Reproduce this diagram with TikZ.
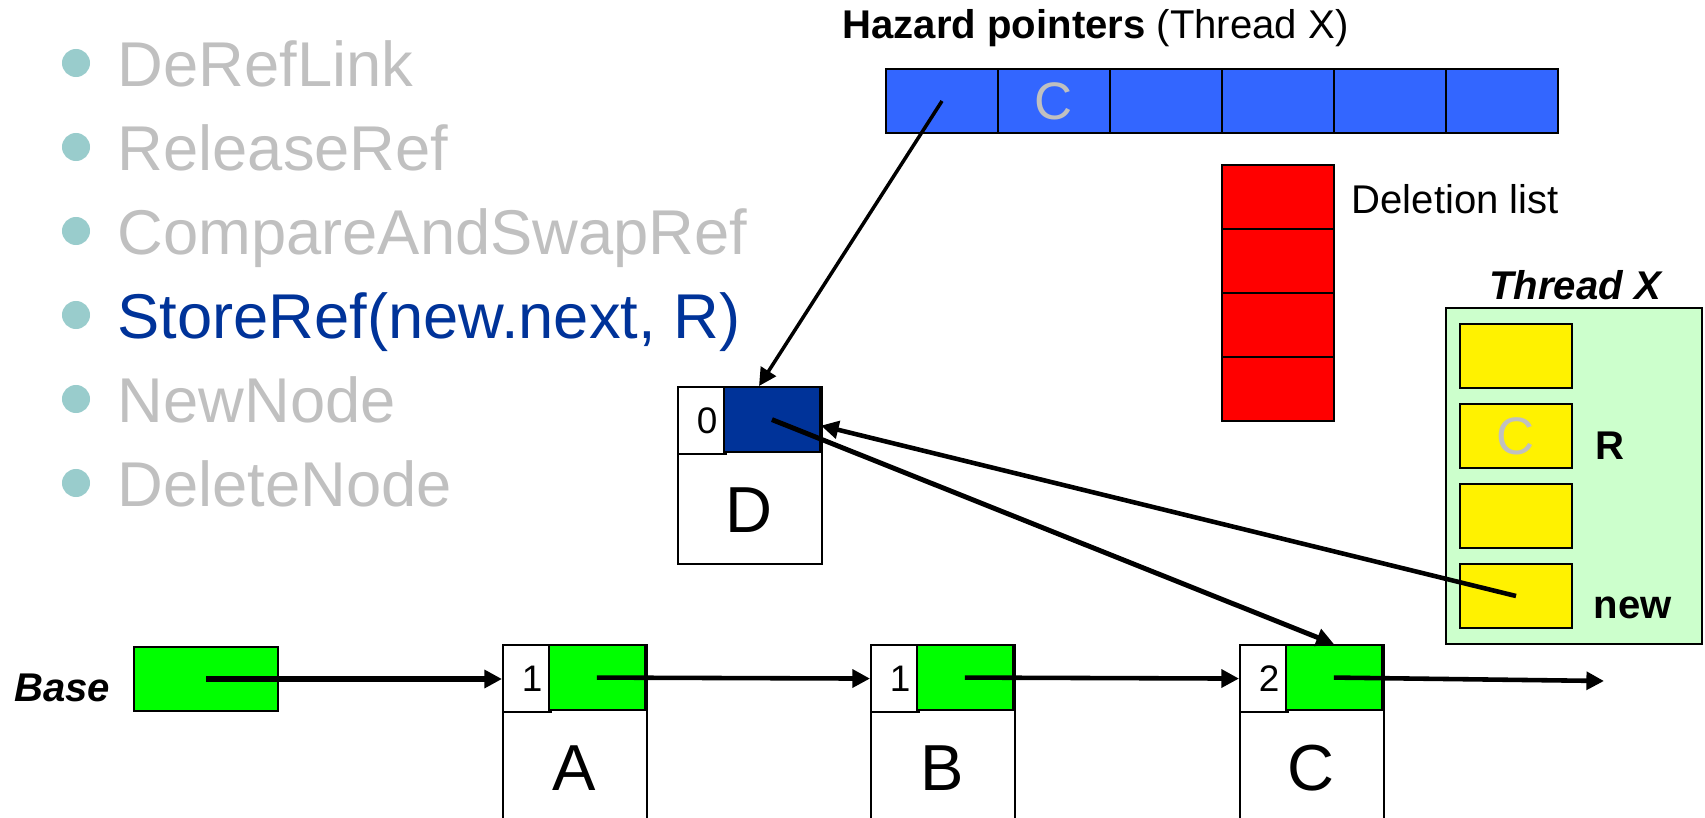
\documentclass[tikz,border=0pt]{standalone}
\usepackage{fontspec}
\setmainfont{Liberation Sans}
\usetikzlibrary{arrows.meta}
\definecolor{hpblue}{RGB}{51,102,255}
\definecolor{dkblue}{RGB}{0,51,153}
\definecolor{thrgreen}{RGB}{204,255,204}
\definecolor{dotcol}{RGB}{153,204,204}
\definecolor{txtgray}{RGB}{192,192,192}

\begin{document}
\begin{tikzpicture}[x=0.01cm,y=-0.01cm,
    cell/.style={draw,line width=0.6pt,minimum width=1.12cm,minimum height=0.64cm,inner sep=0pt},
    cnt/.style={draw,line width=0.6pt,fill=white,anchor=north west,minimum width=0.48cm,minimum height=0.67cm,inner sep=0pt,font=\fontsize{10.5}{12}\selectfont},
    ptr/.style={draw,line width=0.6pt,anchor=north east,minimum width=0.96cm,minimum height=0.65cm,inner sep=0pt},
    body/.style={draw,line width=0.6pt,anchor=north west,minimum width=1.44cm,inner sep=0pt},
    letter/.style={font=\fontsize{18.5}{20}\selectfont},
    item/.style={anchor=base west,inner sep=0pt,text=txtgray,font=\fontsize{18}{21}\selectfont},
    lbl/.style={inner sep=0pt,font=\fontsize{11.4}{13}\selectfont},
    big/.style={text=txtgray,font=\fontsize{15}{17}\selectfont},
    link/.style={-{Triangle[length=5pt,width=5pt]},line width=1.3pt}]
  \clip (0,0) rectangle (1705,818);

  \foreach \y in {63,147,231,315,399,483}
    \fill[dotcol] (76,\y) circle[radius=0.14cm];
  \node[item] (b1) at (117,86)  {DeRefLink};
  \node[item] (b2) at (117,170) {ReleaseRef};
  \node[item] (b3) at (117,254) {CompareAndSwapRef};
  \node[item,text=dkblue] (b4) at (117,338) {StoreRef(new.next, R)};
  \node[item] (b5) at (117,422) {NewNode};
  \node[item] (b6) at (117,506) {DeleteNode};

  \node[lbl,anchor=base west] (hptitle) at (842,38) {\bfseries Hazard pointers \mdseries(Thread X)};
  \foreach \i in {1,...,6}
    \node[cell,fill=hpblue] (h\i) at (830+112*\i,101) {};
  \node[big] at (h2) {C};

  \foreach \i in {1,...,4}
    \node[cell,fill=red] (d\i) at (1278,133+64*\i) {};
  \node[lbl,anchor=west] (dltitle) at (1351,199) {Deletion list};

  \node[draw,line width=0.6pt,fill=thrgreen,minimum width=2.56cm,minimum height=3.36cm] (thr) at (1574,476) {};
  \node[lbl] (thrtitle) at (1575,285) {\bfseries\itshape Thread X};
  \foreach \i in {1,...,4}
    \node[cell,fill=yellow] (y\i) at (1516,276+80*\i) {};
  \node[big] at (y2) {C};
  \node[lbl,anchor=base west] (vR) at (1595,459) {\bfseries R};
  \node[lbl,anchor=base west] (vnew) at (1593,618) {\bfseries new};

  \node[body,minimum height=1.77cm] (D) at (677,386) {};
  \node[cnt] (cD) at (677,386) {\hspace{0.1cm}0};
  \node[ptr,fill=dkblue] (pD) at (821,386) {};
  \node[letter] at (749,510) {D};

  \foreach \n/\x/\k in {A/502/1,B/870/1,C/1239/2}{
    \node[body,minimum height=2.6cm] (\n) at (\x,644) {};
    \node[cnt] (c\n) at (\x,644) {\hspace{0.1cm}\k};
    \node[ptr,fill=green] (p\n) at (\x+144,644) {};
    \node[letter] at (\x+72,768) {\n};
  }

  \node[lbl] (baselbl) at (62,688) {\bfseries\itshape Base};
  \node[cell,fill=green,minimum width=1.44cm] (base) at (206,679) {};
  \coordinate (tail) at (1604,681);

  \draw[link,line width=1.6pt] (base.center) -- (base.center -| cA.west);
  \draw[link] (pA.center) -- (cB.west);
  \draw[link] (pB.center) -- (cC.west);
  \draw[link] (pC.center) -- (tail);
  \draw[link,line width=1.4pt] (pD.center) -- (pC.north);
  \draw[link,line width=1pt] (h1.center) -- (pD.111);
  \draw[link,line width=1.3pt] (y4.center) -- (pD.-7);
\end{tikzpicture}
\end{document}
